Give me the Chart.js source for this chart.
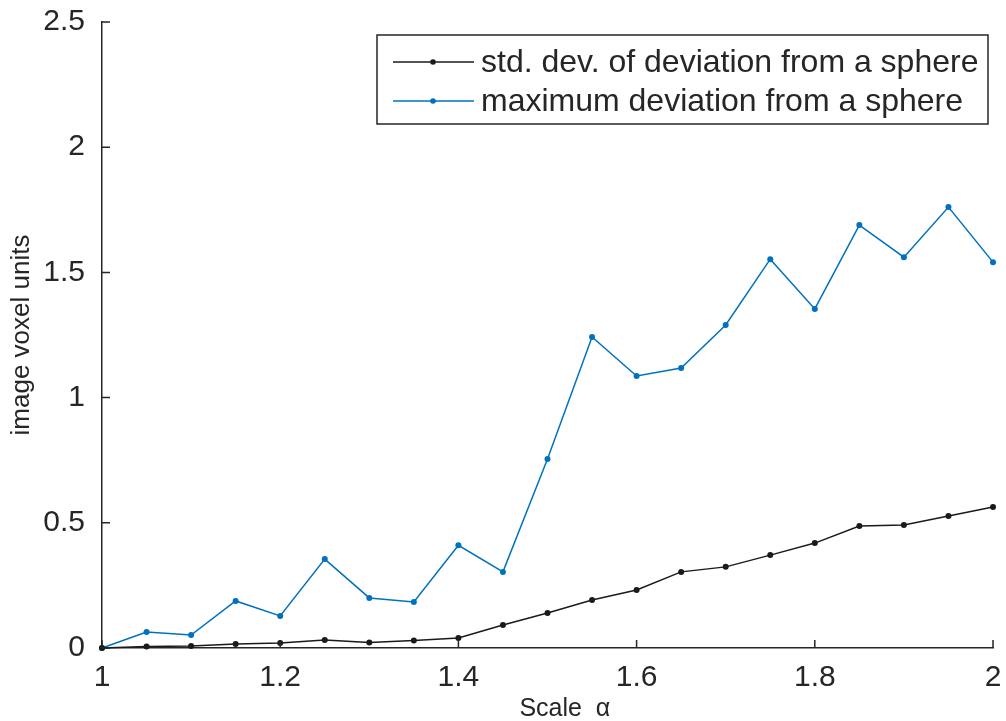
<!DOCTYPE html>
<html lang="en">
<head>
    <meta charset="UTF-8">
    <title>Deviation from a sphere vs scale</title>
    <script src="https://cdn.jsdelivr.net/npm/chart.js"></script>
    <style>
        body { margin: 0; background: #fff; }
    </style>
</head>
<body>
    <canvas id="grafico" width="1006" height="721"></canvas>

    <script>
        // Scale alpha values (x axis)
        const scales = [1.00, 1.05, 1.10, 1.15, 1.20, 1.25, 1.30, 1.35, 1.40, 1.45, 1.50,
                        1.55, 1.60, 1.65, 1.70, 1.75, 1.80, 1.85, 1.90, 1.95, 2.00];
        // std. dev. of deviation from a sphere
        const stdDev = [0, 0.006, 0.008, 0.016, 0.020, 0.032, 0.022, 0.030, 0.040, 0.092, 0.140,
                        0.192, 0.232, 0.304, 0.324, 0.371, 0.419, 0.487, 0.491, 0.527, 0.563];
        // maximum deviation from a sphere
        const maxDev = [0, 0.064, 0.052, 0.188, 0.128, 0.355, 0.200, 0.184, 0.410, 0.304, 0.755,
                        1.242, 1.086, 1.118, 1.290, 1.553, 1.354, 1.689, 1.561, 1.761, 1.541];
        const labels = ['std. dev. of deviation from a sphere', 'maximum deviation from a sphere'];

        const axisColor = '#262626';
        const font = 'Liberation Sans, Arial, sans-serif';

        // Small inward ticks, MATLAB style
        const tickMarks = {
            id: 'tickMarks',
            afterDraw(chart) {
                const ctx = chart.ctx;
                const xs = chart.scales.x, ys = chart.scales.y;
                ctx.save();
                ctx.strokeStyle = axisColor;
                ctx.lineWidth = 1.5;
                ctx.beginPath();
                xs.ticks.forEach(t => {
                    const px = xs.getPixelForValue(t.value);
                    ctx.moveTo(px, ys.bottom);
                    ctx.lineTo(px, ys.bottom - 8);
                });
                ys.ticks.forEach(t => {
                    const py = ys.getPixelForValue(t.value);
                    ctx.moveTo(xs.left, py);
                    ctx.lineTo(xs.left + 8, py);
                });
                ctx.stroke();
                ctx.restore();
            }
        };

        // Boxed legend at top right
        const boxLegend = {
            id: 'boxLegend',
            afterDraw(chart) {
                const ctx = chart.ctx;
                const x0 = 377, y0 = 35, w = 611, h = 89;
                ctx.save();
                ctx.fillStyle = '#fff';
                ctx.fillRect(x0, y0, w, h);
                ctx.strokeStyle = axisColor;
                ctx.lineWidth = 1.5;
                ctx.strokeRect(x0, y0, w, h);
                ctx.font = '32px ' + font;
                ctx.textBaseline = 'middle';
                chart.data.datasets.forEach((ds, i) => {
                    const y = y0 + 27 + i * 39;
                    ctx.strokeStyle = ds.borderColor;
                    ctx.lineWidth = 1.3;
                    ctx.beginPath();
                    ctx.moveTo(393, y);
                    ctx.lineTo(474, y);
                    ctx.stroke();
                    ctx.fillStyle = ds.borderColor;
                    ctx.beginPath();
                    ctx.arc(433, y, 2.8, 0, Math.PI * 2);
                    ctx.fill();
                    ctx.fillStyle = axisColor;
                    ctx.fillText(ds.label, 481, y + 1);
                });
                ctx.restore();
            }
        };

        const ctx = document.getElementById('grafico').getContext('2d');
        new Chart(ctx, {
            type: 'line',
            data: {
                datasets: [{
                    label: labels[0],
                    data: scales.map((x, i) => ({ x: x, y: stdDev[i] })),
                    borderColor: '#1a1a1a',
                    backgroundColor: '#1a1a1a',
                    borderWidth: 1.5,
                    pointRadius: 3,
                    pointBorderWidth: 0,
                    clip: false
                }, {
                    label: labels[1],
                    data: scales.map((x, i) => ({ x: x, y: maxDev[i] })),
                    borderColor: '#0072BD',
                    backgroundColor: '#0072BD',
                    borderWidth: 1.5,
                    pointRadius: 3,
                    pointBorderWidth: 0,
                    clip: false
                }]
            },
            options: {
                responsive: false,
                animation: false,
                layout: { padding: { top: 22, right: 13, left: 0, bottom: 0 } },
                plugins: { legend: { display: false }, tooltip: { enabled: false } },
                scales: {
                    x: {
                        type: 'linear',
                        min: 1, max: 2,
                        grid: { display: false, drawTicks: false },
                        border: { display: true, color: axisColor, width: 1.5 },
                        ticks: {
                            stepSize: 0.2,
                            padding: 12,
                            color: axisColor,
                            font: { family: font, size: 30 },
                            maxRotation: 0,
                            callback: v => +v.toFixed(1)
                        },
                        title: {
                            display: true,
                            text: '     Scale  α',
                            color: axisColor,
                            font: { family: font, size: 25 },
                            padding: { top: 0, bottom: -3 }
                        },
                        afterFit: s => {
                            s.height = 73;
                            s.paddingLeft = 0;
                            s.paddingRight = 0;
                        }
                    },
                    y: {
                        min: 0, max: 2.5,
                        grid: { display: false, drawTicks: false },
                        border: { display: true, color: axisColor, width: 1.5 },
                        ticks: {
                            stepSize: 0.5,
                            padding: 17,
                            color: axisColor,
                            font: { family: font, size: 30 },
                            callback: v => +v.toFixed(1)
                        },
                        title: {
                            display: true,
                            text: 'image voxel units',
                            color: axisColor,
                            font: { family: font, size: 26 },
                            padding: { top: 6, bottom: 0 }
                        },
                        afterFit: s => {
                            s.width = 102;
                            s.paddingTop = 0;
                            s.paddingBottom = 0;
                        }
                    }
                }
            },
            plugins: [tickMarks, boxLegend]
        });
    </script>
</body>
</html>
